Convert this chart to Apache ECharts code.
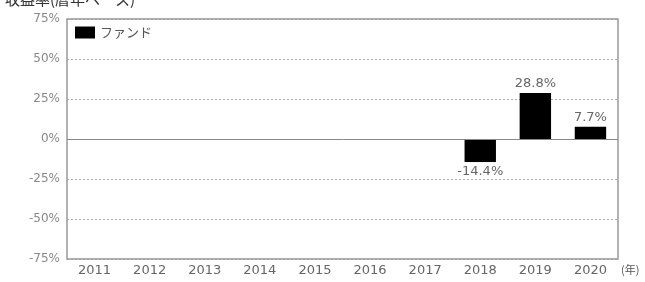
<!DOCTYPE html>
<html>
<head>
<meta charset="utf-8">
<script src="https://cdn.jsdelivr.net/npm/echarts@6/dist/echarts.min.js"></script>
<style>
html,body{margin:0;padding:0;background:#fff;}
#chart{width:645px;height:282px;}
</style>
</head>
<body>
<div id="chart"></div>
<script>
var years=['2011','2012','2013','2014','2015','2016','2017','2018','2019','2020'];
var fund=[null,null,null,null,null,null,null,-14.4,28.8,7.7];
var FONT='"DejaVu Sans", "Noto Sans CJK JP", sans-serif';
var JP='"Noto Sans CJK JP", sans-serif';

var chart=echarts.init(document.getElementById('chart'));
chart.setOption({
    animation:false,
    title:{text:'収益率(暦年ベース)',left:0,top:-13,textStyle:{fontFamily:JP,fontSize:15,fontWeight:'normal',color:'#333'}},
    grid:{left:67,right:27,top:19,bottom:23},
    legend:{left:70,top:21,icon:'rect',itemWidth:20,itemHeight:12,itemGap:6,
        textStyle:{fontFamily:JP,fontSize:13,color:'#555'},data:['ファンド']},
    xAxis:{type:'category',data:years,
        axisLine:{show:false},axisTick:{show:false},
        axisLabel:{fontFamily:FONT,fontSize:13,color:'#666',margin:5}},
    yAxis:{type:'value',min:-75,max:75,interval:25,
        axisLine:{show:false},axisTick:{show:false},
        axisLabel:{fontFamily:FONT,fontSize:12,color:'#888',margin:7,formatter:'{value}%'},
        splitLine:{lineStyle:{color:'#aaa',type:[2,2],width:1}}},
    graphic:[
        {type:'rect',shape:{x:67,y:19,width:551,height:240},style:{fill:'none',stroke:'#999',lineWidth:1.5},z:5},
        {type:'text',left:621,top:264,style:{text:'(年)',font:'11px '+JP,fill:'#555'}}
    ],
    series:[
        {name:'ファンド',type:'bar',barWidth:'57%',
            data:fund.map(function(v){
                if(v!==null && v<0) return {value:v,label:{position:'bottom'}};
                return v;}),
            itemStyle:{color:'#000'},
            label:{show:true,position:'top',distance:3,fontFamily:FONT,fontSize:13,color:'#666',
                formatter:function(p){return p.value+'%';}},
            markLine:{silent:true,symbol:'none',label:{show:false},
                lineStyle:{color:'#888',type:'solid',width:1},data:[{yAxis:0}]}}
    ]
});
</script>
</body>
</html>
